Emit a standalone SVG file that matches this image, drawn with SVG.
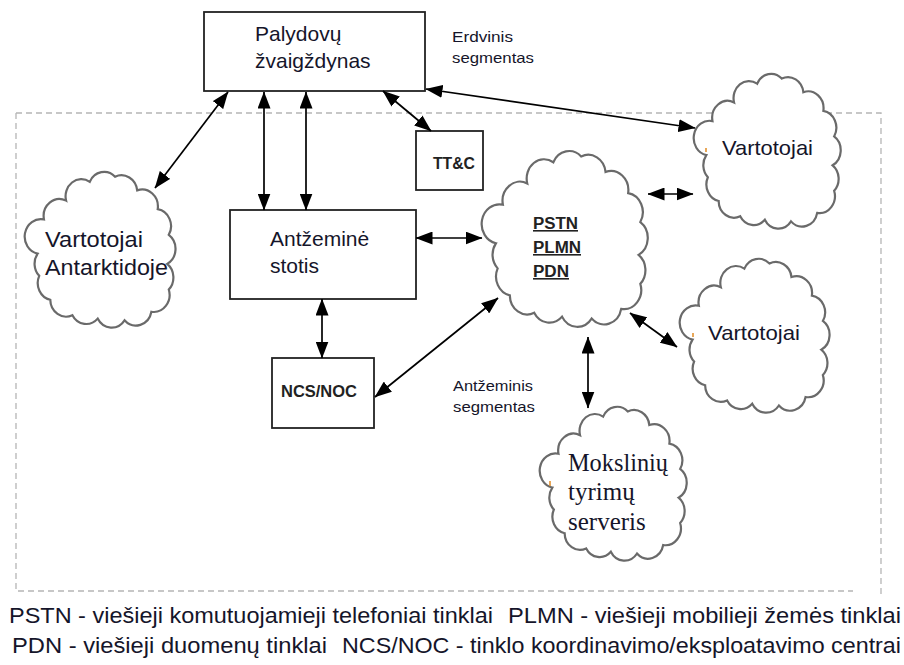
<svg xmlns="http://www.w3.org/2000/svg" xmlns:xlink="http://www.w3.org/1999/xlink" width="904" height="665" viewBox="0 0 904 665">
<style>
.box{fill:#fff;stroke:#222;stroke-width:1.8}
.cloud{fill:#fff;stroke:#6a6a6a;stroke-width:2.2;vector-effect:non-scaling-stroke}
.t{font-family:"Liberation Sans",Arial,sans-serif;fill:#15152a}
.tb{font-family:"Liberation Sans",Arial,sans-serif;font-weight:bold;fill:#222}
.ts{font-family:"Liberation Serif","Times New Roman",serif;fill:#15152a}
.conn line{stroke:#000;stroke-width:1.7;marker-start:url(#ah);marker-end:url(#ah)}
.dash{fill:none;stroke:#b5b5b5;stroke-width:1.3;stroke-dasharray:6 4}
.tick{stroke:#e08a20;stroke-width:1.5}
</style>
<defs>
<marker id="ah" viewBox="0 0 17 13" refX="16.5" refY="6.5" markerWidth="17" markerHeight="13" markerUnits="userSpaceOnUse" orient="auto-start-reverse">
<path d="M0,0 L17,6.5 L0,13 z" fill="#000"/>
</marker>
<path id="cloudshape" class="cloud" d="M8,53 A10,10 0 0 1 12,33 A10,10 0 0 1 26,22 A10,10 0 0 1 41,11 A10,10 0 0 1 57,8 A10,10 0 0 1 71,16 A10,10 0 0 1 84,27 A10,10 0 0 1 91,42 A10,10 0 0 1 90,59 A10,10 0 0 1 91,74 A10,10 0 0 1 80,87 A10,10 0 0 1 63,92 A10,10 0 0 1 46,91 A10,10 0 0 1 30,89 A10,10 0 0 1 16,80 A10,10 0 0 1 9,66 A10,10 0 0 1 8,53 Z"/>
</defs>
<rect width="904" height="665" fill="#fff"/>
<path class="dash" d="M16,113 H881 V597 M16,113 V591 H853"/>

<g id="palydovu">
<rect class="box" x="204" y="12" width="221" height="79"/>
<text class="t" x="255" y="41" font-size="21">Palydovų</text>
<text class="t" x="255" y="68" font-size="21">žvaigždynas</text>
</g>

<g id="erdvinis-label">
<text class="t" x="452" y="42" font-size="15" textLength="61" lengthAdjust="spacingAndGlyphs">Erdvinis</text>
<text class="t" x="452" y="63" font-size="15" textLength="82" lengthAdjust="spacingAndGlyphs">segmentas</text>
</g>

<g id="ttc">
<rect class="box" x="416" y="131" width="67" height="59"/>
<text class="tb" x="433" y="169" font-size="16" textLength="42" lengthAdjust="spacingAndGlyphs">TT&amp;C</text>
</g>

<g id="antzemine-stotis">
<rect class="box" x="230" y="210" width="186" height="89"/>
<text class="t" x="270" y="246" font-size="21">Antžeminė</text>
<text class="t" x="270" y="273" font-size="21">stotis</text>
</g>

<g id="ncs-noc">
<rect class="box" x="272" y="358" width="102" height="70"/>
<text class="tb" x="281" y="397" font-size="17" textLength="76" lengthAdjust="spacingAndGlyphs">NCS/NOC</text>
</g>

<g id="antarktida">
<use xlink:href="#cloudshape" transform="translate(25,163) scale(1.58,1.71)"/>
<text class="t" x="45" y="247" font-size="22" textLength="98" lengthAdjust="spacingAndGlyphs">Vartotojai</text>
<text class="t" x="45" y="275" font-size="22" textLength="123" lengthAdjust="spacingAndGlyphs">Antarktidoje</text>
</g>

<g id="pstn">
<use xlink:href="#cloudshape" transform="translate(482,141) scale(1.74,1.93)"/>
<text class="tb" x="533" y="229" font-size="16" text-decoration="underline" textLength="45" lengthAdjust="spacingAndGlyphs">PSTN</text>
<text class="tb" x="533" y="253" font-size="16" text-decoration="underline" textLength="48" lengthAdjust="spacingAndGlyphs">PLMN</text>
<text class="tb" x="533" y="277" font-size="16" text-decoration="underline" textLength="36" lengthAdjust="spacingAndGlyphs">PDN</text>
</g>

<g id="vartotojai-1">
<use xlink:href="#cloudshape" transform="translate(694,65) scale(1.54,1.70)"/>
<line class="tick" x1="706" y1="148" x2="706" y2="152"/>
<text class="t" x="722" y="155" font-size="21" textLength="91" lengthAdjust="spacingAndGlyphs">Vartotojai</text>
</g>

<g id="vartotojai-2">
<use xlink:href="#cloudshape" transform="translate(680,250) scale(1.57,1.69)"/>
<line class="tick" x1="693" y1="333" x2="693" y2="337"/>
<text class="t" x="708" y="340" font-size="21" textLength="92" lengthAdjust="spacingAndGlyphs">Vartotojai</text>
</g>

<g id="mokslinio-serveris">
<use xlink:href="#cloudshape" transform="translate(540,398) scale(1.54,1.69)"/>
<line class="tick" x1="550" y1="481" x2="550" y2="486"/>
<text class="ts" x="568" y="471" font-size="25" textLength="100" lengthAdjust="spacingAndGlyphs">Mokslinių</text>
<text class="ts" x="568" y="500" font-size="25">tyrimų</text>
<text class="ts" x="568" y="530" font-size="25">serveris</text>
</g>

<g id="antzeminis-label">
<text class="t" x="453" y="391" font-size="15" textLength="80" lengthAdjust="spacingAndGlyphs">Antžeminis</text>
<text class="t" x="453" y="412" font-size="15" textLength="82" lengthAdjust="spacingAndGlyphs">segmentas</text>
</g>

<g id="connectors" class="conn">
<line x1="228" y1="92" x2="155" y2="188"/>
<line x1="264" y1="92" x2="264" y2="210"/>
<line x1="306" y1="92" x2="306" y2="210"/>
<line x1="383" y1="91" x2="431" y2="131"/>
<line x1="426" y1="89" x2="695" y2="128"/>
<line x1="416" y1="238" x2="482" y2="238"/>
<line x1="322" y1="299" x2="322" y2="358"/>
<line x1="375" y1="397" x2="498" y2="298"/>
<line x1="648" y1="194" x2="693" y2="194"/>
<line x1="630" y1="313" x2="677" y2="347"/>
<line x1="588" y1="337" x2="588" y2="408"/>
</g>

<g id="legend">
<text class="t" x="9" y="623" font-size="22" textLength="484" lengthAdjust="spacingAndGlyphs">PSTN - viešieji komutuojamieji telefoniai tinklai</text>
<text class="t" x="508" y="623" font-size="22" textLength="393" lengthAdjust="spacingAndGlyphs">PLMN - viešieji mobilieji žemės tinklai</text>
<text class="t" x="12" y="653" font-size="22" textLength="315" lengthAdjust="spacingAndGlyphs">PDN - viešieji duomenų tinklai</text>
<text class="t" x="342" y="653" font-size="22" textLength="559" lengthAdjust="spacingAndGlyphs">NCS/NOC - tinklo koordinavimo/eksploatavimo centrai</text>
</g>
</svg>
